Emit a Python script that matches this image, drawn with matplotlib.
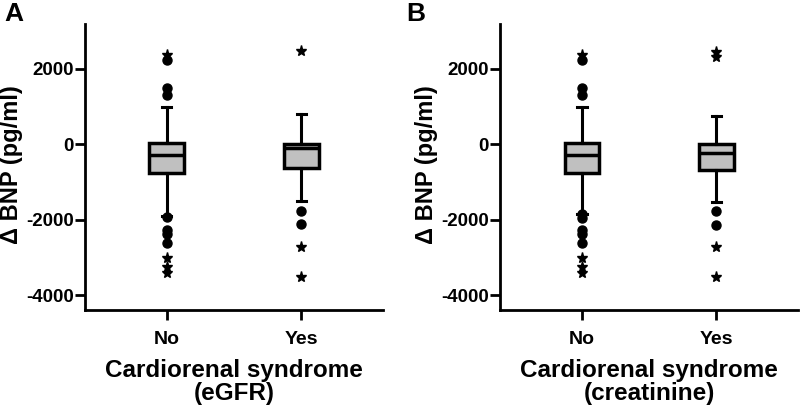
"""
Delta BNP by cardiorenal syndrome (eGFR / creatinine definitions)
"""

import matplotlib
matplotlib.use("Agg")
import matplotlib.pyplot as plt

plt.rcParams['font.family'] = ['Liberation Sans', 'DejaVu Sans']
plt.rcParams['font.weight'] = 'bold'
plt.rcParams['axes.unicode_minus'] = False

groups = ['No', 'Yes']

# panel A (eGFR): box statistics per group
a_med = [-290, -110]
a_q1 = [-770, -640]
a_q3 = [20, 0]
a_whislo = [-1900, -1510]
a_whishi = [980, 800]
a_circles = [[2230, 1480, 1300, -1930, -2280, -2380, -2620],
             [-1780, -2120]]
a_stars = [[2360, -3020, -3260, -3420],
           [2460, -2730, -3520]]

# panel B (creatinine)
b_med = [-290, -240]
b_q1 = [-770, -690]
b_q3 = [20, 0]
b_whislo = [-1850, -1540]
b_whishi = [970, 740]
b_circles = [[2230, 1480, 1300, -1850, -1950, -2280, -2380, -2620],
             [-1780, -2140]]
b_stars = [[2360, -3020, -3260, -3420],
           [2440, 2300, -2730, -3520]]

yticks = [-4000, -2000, 0, 2000]


def draw_panel(ax, med, q1, q3, wlo, whi, circles, stars, xlabel):
    stats = []
    for i in range(len(groups)):
        stats.append({'med': med[i], 'q1': q1[i], 'q3': q3[i],
                      'whislo': wlo[i], 'whishi': whi[i], 'fliers': []})
    pos = [1, 2]
    ax.bxp(stats, positions=pos, widths=0.26, capwidths=0.07, patch_artist=True,
           showfliers=False,
           boxprops=dict(facecolor='#c0c0c0', edgecolor='black', linewidth=2.5),
           medianprops=dict(color='black', linewidth=2.5),
           whiskerprops=dict(color='black', linewidth=2.2),
           capprops=dict(color='black', linewidth=2.2))
    for p, c, s in zip(pos, circles, stars):
        ax.plot([p] * len(c), c, 'o', color='black', markersize=6.5, zorder=5)
        ax.plot([p] * len(s), s, '*', color='black', markersize=8, zorder=5)

    ax.set_xlim(0.39, 2.61)
    ax.set_ylim(-4400, 3180)
    ax.set_yticks(yticks)
    ax.set_xticks(pos)
    ax.set_xticklabels(groups)
    ax.spines['top'].set_visible(False)
    ax.spines['right'].set_visible(False)
    ax.spines['left'].set_linewidth(2)
    ax.spines['bottom'].set_linewidth(2)
    ax.tick_params(width=2, length=7, labelsize=13.5, pad=1)
    ax.tick_params(axis='x', labelsize=14, pad=8)
    ax.set_ylabel('Δ BNP (pg/ml)', fontsize=17, fontweight='bold')
    ax.yaxis.set_label_coords(-0.208, 0.51)
    ax.set_xlabel(xlabel, fontsize=17.5, fontweight='bold', labelpad=8, linespacing=1.0)


fig = plt.figure(figsize=(8, 4.07), dpi=100)
ax1 = fig.add_axes([0.106, 0.238, 0.373, 0.703])
ax2 = fig.add_axes([0.625, 0.238, 0.373, 0.703])

draw_panel(ax1, a_med, a_q1, a_q3, a_whislo, a_whishi, a_circles, a_stars,
           'Cardiorenal syndrome\n(eGFR)')
draw_panel(ax2, b_med, b_q1, b_q3, b_whislo, b_whishi, b_circles, b_stars,
           'Cardiorenal syndrome\n(creatinine)')

fig.text(0.005, 0.995, 'A', fontsize=19, fontweight='bold', va='top', ha='left')
fig.text(0.508, 0.995, 'B', fontsize=19, fontweight='bold', va='top', ha='left')

plt.savefig('out.png', dpi=100)
